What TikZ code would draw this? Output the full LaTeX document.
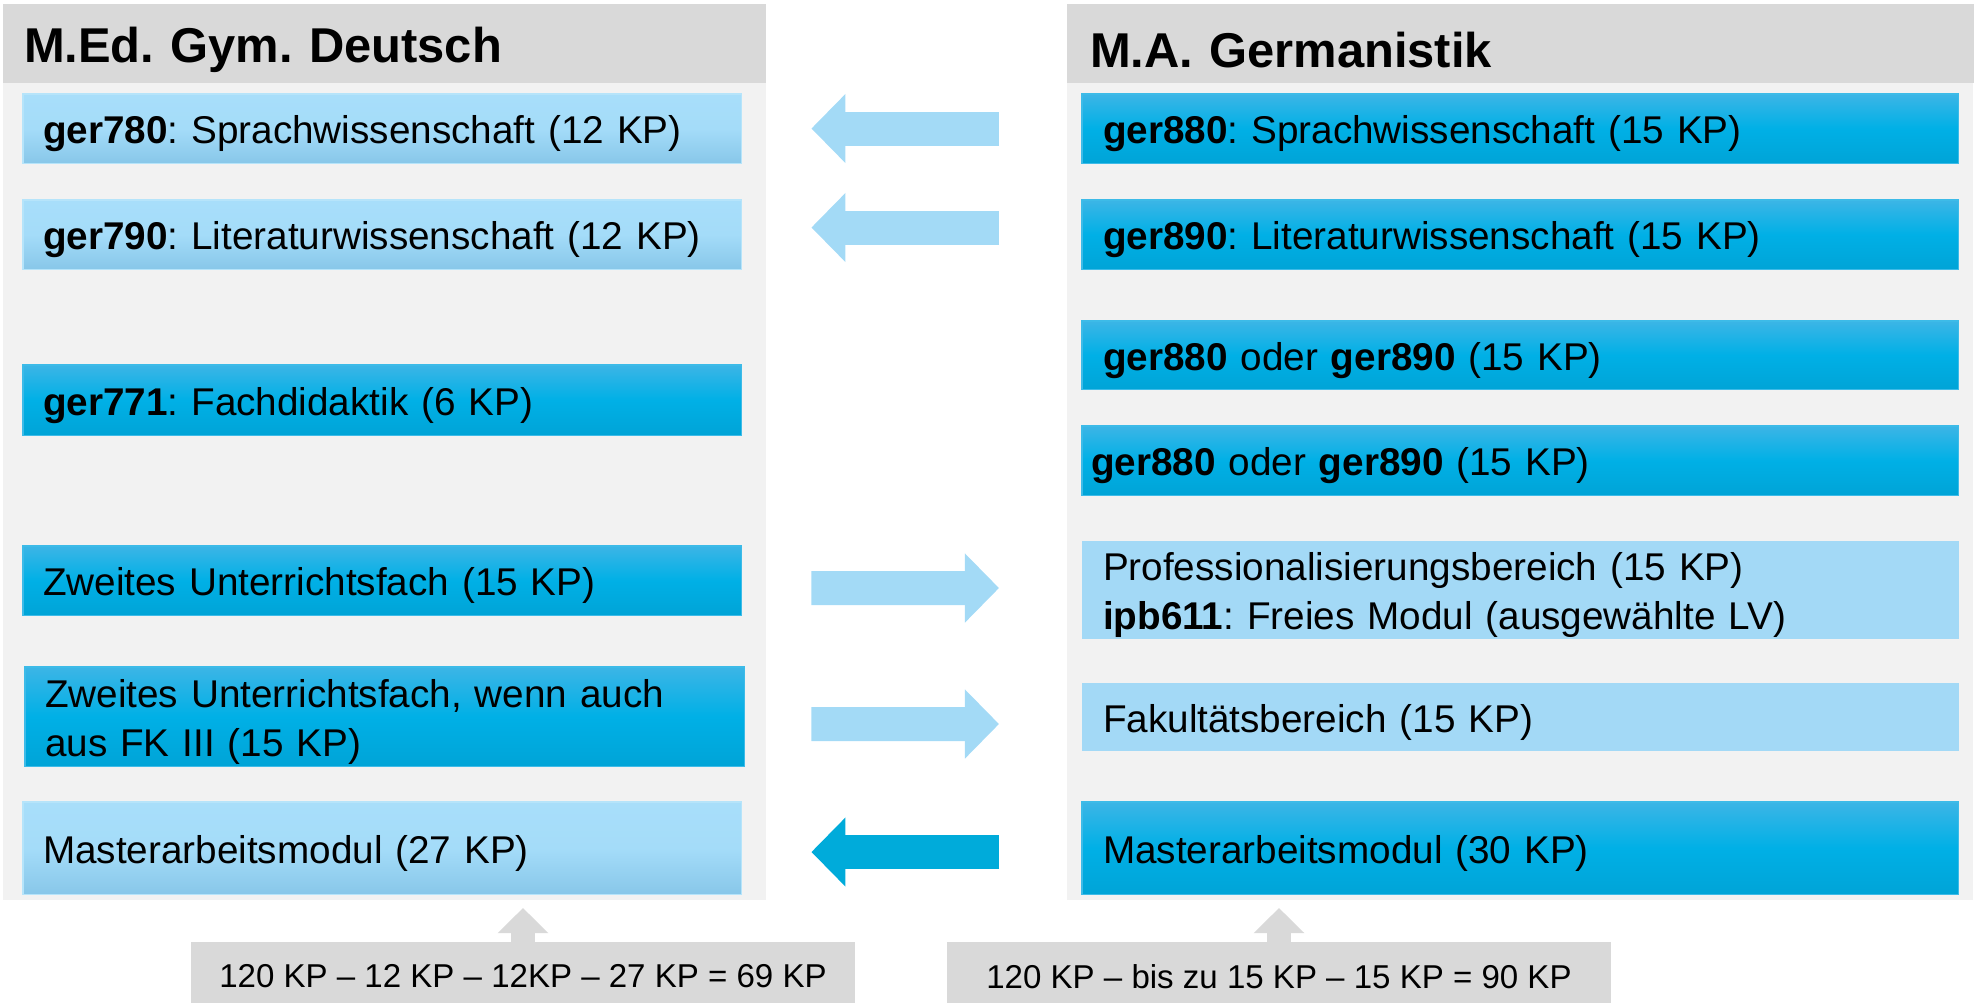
\documentclass[tikz,border=0pt]{standalone}
\usepackage{fontspec}
\setmainfont{Liberation Sans}
\frenchspacing
\usetikzlibrary{arrows.meta,calc}

\definecolor{panelgray}{HTML}{F2F2F2}
\definecolor{headgray}{HTML}{D9D9D9}
\definecolor{dkTop}{HTML}{3CB5E6}
\definecolor{dkMid}{HTML}{00B0E6}
\definecolor{dkBot}{HTML}{00A4D7}
\definecolor{dkLine}{HTML}{3DBBE8}
\definecolor{ltTop}{HTML}{A8DEFA}
\definecolor{ltMid}{HTML}{A4DCF9}
\definecolor{ltBot}{HTML}{88C7E9}
\definecolor{ltLine}{HTML}{B6E4FA}
\definecolor{ltFlat}{HTML}{A3D9F6}
\definecolor{arrowlight}{HTML}{A3DAF6}
\definecolor{arrowdark}{HTML}{00ABDA}

\begin{document}
\begin{tikzpicture}[x=0.01cm, y=-0.01cm, font=\fontsize{11}{14}\selectfont,
    every node/.style={anchor=north west, outer sep=0pt, inner ysep=0pt, align=left},
    modul/.style={inner xsep=0.2cm, minimum height=#1, execute at begin node={\rule{0pt}{1em}}},
    links/.style={text width=6.78cm},
    rechts/.style={inner xsep=0.21cm, text width=8.34cm},
    dunkel/.style={top color=dkTop, bottom color=dkBot, middle color=dkMid, draw=dkLine, line width=0.3pt},
    hell/.style={top color=ltTop, bottom color=ltBot, middle color=ltMid, draw=ltLine, line width=0.3pt},
    flach/.style={fill=ltFlat},
    kopf/.style={fill=headgray, inner xsep=0.21cm, minimum height=0.79cm, font=\fontsize{13.9}{16}\selectfont\bfseries, execute at begin node={\rule{0pt}{1em}}},
    summe/.style={fill=headgray, anchor=north, minimum width=6.64cm, minimum height=0.69cm, inner sep=0pt, align=center, font=\fontsize{9.4}{11}\selectfont},
    pfeil/.style={line width=0.34cm, -{Triangle[length=0.34cm, width=0.67cm]}},
    hoch/.style={draw=headgray, line width=0.24cm, -{Triangle[length=0.25cm, width=0.49cm]}}]
    \useasboundingbox (0,0) rectangle (1975,1003);

    % two columns
    \fill[panelgray] (3,83) rectangle (766,900);
    \fill[panelgray] (1067,83) rectangle (1973,900);
    \node[kopf, text width=7.21cm] (kopfL) at (3,4) {M.Ed. Gym. Deutsch};
    \node[kopf, inner xsep=0.23cm, text width=8.60cm] (kopfR) at (1067,4) {M.A. Germanistik};

    % M.Ed.
    \node[modul=0.69cm, links, hell] (ger780) at (23,94) {\textbf{ger780}: Sprachwissenschaft (12 KP)};
    \node[modul=0.69cm, links, hell] (ger790) at (23,200) {\textbf{ger790}: Literaturwissenschaft (12 KP)};
    \node[modul=0.70cm, links, dunkel] (ger771) at (23,365) {\textbf{ger771}: Fachdidaktik (6 KP)};
    \node[modul=0.69cm, links, dunkel] (fach) at (23,546) {Zweites Unterrichtsfach (15 KP)};
    \node[modul=0.99cm, links, dunkel, text width=6.79cm] (fachFK) at (25,667) {Zweites Unterrichtsfach, wenn auch\\aus FK III (15 KP)};
    \node[modul=0.92cm, links, hell] (maLinks) at (23,802) {Masterarbeitsmodul (27 KP)};

    % M.A.
    \node[modul=0.69cm, rechts, dunkel] (ger880) at (1082,94) {\textbf{ger880}: Sprachwissenschaft (15 KP)};
    \node[modul=0.69cm, rechts, dunkel] (ger890) at (1082,200) {\textbf{ger890}: Literaturwissenschaft (15 KP)};
    \node[modul=0.68cm, rechts, dunkel] (oder1) at (1082,321) {\textbf{ger880} oder \textbf{ger890} (15 KP)};
    \node[modul=0.69cm, rechts, dunkel, inner xsep=0.09cm, text width=8.58cm] (oder2) at (1082,426) {\textbf{ger880} oder \textbf{ger890} (15 KP)};
    \node[modul=0.98cm, rechts, flach] (prof) at (1082,541) {Professionalisierungsbereich (15 KP)\\\textbf{ipb611}: Freies Modul (ausgewählte LV)};
    \node[modul=0.68cm, rechts, flach] (fak) at (1082,683) {Fakultätsbereich (15 KP)};
    \node[modul=0.92cm, rechts, dunkel] (maRechts) at (1082,802) {Masterarbeitsmodul (30 KP)};

    % Anrechnung
    \draw[pfeil, draw=arrowlight] ($(ger880.west)+(-83,0)$) -- ($(ger780.east)+(70,0)$);
    \draw[pfeil, draw=arrowlight] ($(ger890.west)+(-83,-7)$) -- ($(ger790.east)+(70,-7)$);
    \draw[pfeil, draw=arrowlight] ($(fach.east)+(70,7.5)$) -- ($(prof.west)+(-83,-2)$);
    \draw[pfeil, draw=arrowlight] ($(fachFK.east)+(67,7.5)$) -- ($(fak.west)+(-83,7)$);
    \draw[pfeil, draw=arrowdark] ($(maRechts.west)+(-83,4)$) -- ($(maLinks.east)+(70,4)$);

    % Summen
    \node[summe] (sumL) at (523,942) {120 KP -- 12 KP -- 12KP -- 27 KP = 69 KP};
    \node[summe] (sumR) at (1279,942) {120 KP -- bis zu 15 KP -- 15 KP = 90 KP};
    \draw[hoch] (sumL.north) -- ($(sumL.north)+(0,-34)$);
    \draw[hoch] (sumR.north) -- ($(sumR.north)+(0,-34)$);
\end{tikzpicture}
\end{document}
